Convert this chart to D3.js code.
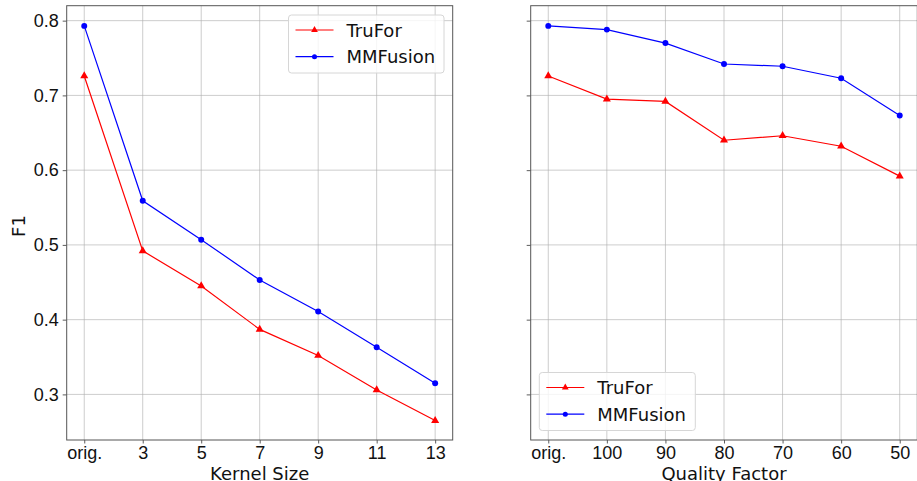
<!DOCTYPE html>
<html>
<head>
<meta charset="utf-8">
<script src="https://cdn.jsdelivr.net/npm/d3@7"></script>
<style>
  body { margin: 0; background: #fff; }
  svg { font-family: "DejaVu Sans", sans-serif; }
  .grid line { stroke: #b0b0b0; stroke-opacity: 0.7; stroke-width: 0.9; }
  .tick text { font-size: 18px; fill: #111; }
</style>
</head>
<body>
<svg id="chart" width="917" height="481"></svg>
<script>
// kernel size panel
var kernelCats = ["orig.", "3", "5", "7", "9", "11", "13"];
var kernelTruFor = [0.726, 0.492, 0.445, 0.387, 0.352, 0.306, 0.265];
var kernelMMFusion = [0.793, 0.559, 0.507, 0.453, 0.411, 0.363, 0.315];

// quality factor panel
var qualityCats = ["orig.", "100", "90", "80", "70", "60", "50"];
var qualityTruFor = [0.726, 0.695, 0.692, 0.640, 0.646, 0.632, 0.592];
var qualityMMFusion = [0.793, 0.788, 0.770, 0.742, 0.739, 0.723, 0.673];

var yTicks = [0.3, 0.4, 0.5, 0.6, 0.7, 0.8];

var svg = d3.select("#chart");
var top_ = 5.7, bottom = 440;
var fs = 18;

var y = d3.scaleLinear().domain([0.239, 0.820]).range([bottom, top_]);

function drawPanel(x0, x1, cats, truFor, mmFusion, xTitle, showYLabels, legendPos) {
	var g = svg.append("g");
	var x = d3.scalePoint().domain(cats).range([x0, x1]).padding(0.3);

	// grid
	var grid = g.append("g").attr("class", "grid");
	grid.selectAll("line.gx").data(cats).enter().append("line")
		.attr("x1", function (d) { return x(d); }).attr("x2", function (d) { return x(d); })
		.attr("y1", top_).attr("y2", bottom);
	grid.selectAll("line.gy").data(yTicks).enter().append("line")
		.attr("x1", x0).attr("x2", x1)
		.attr("y1", function (d) { return y(d); }).attr("y2", function (d) { return y(d); });

	// axes
	var xAxis = g.append("g").attr("transform", "translate(0," + bottom + ")")
		.call(d3.axisBottom(x).tickSize(3.5).tickPadding(3));
	var yAxis = g.append("g").attr("transform", "translate(" + x0 + ",0)")
		.call(d3.axisLeft(y).tickValues(yTicks).tickSize(4).tickPadding(4)
			.tickFormat(showYLabels ? d3.format(".1f") : function () { return ""; }));
	[xAxis, yAxis].forEach(function (a) {
		a.select(".domain").remove();
		a.selectAll(".tick line").attr("stroke", "#333").attr("stroke-width", 0.8);
	});

	// spines
	g.append("rect").attr("x", x0).attr("y", top_)
		.attr("width", x1 - x0).attr("height", bottom - top_)
		.attr("fill", "none").attr("stroke", "#555").attr("stroke-width", 1);

	var series = [
		{name: "TruFor", values: truFor, color: "#ff0000", symbol: d3.symbolTriangle},
		{name: "MMFusion", values: mmFusion, color: "#0000ff", symbol: d3.symbolCircle}
	];

	var line = d3.line()
		.x(function (d, i) { return x(cats[i]); })
		.y(function (d) { return y(d); });

	series.forEach(function (s) {
		g.append("path").datum(s.values)
			.attr("d", line).attr("fill", "none")
			.attr("stroke", s.color).attr("stroke-width", 1.2);
		g.selectAll(null).data(s.values).enter().append("path")
			.attr("d", d3.symbol().type(s.symbol).size(28))
			.attr("transform", function (d, i) { return "translate(" + x(cats[i]) + "," + y(d) + ")"; })
			.attr("fill", s.color);
	});

	// x title
	g.append("text").attr("x", (x0 + x1) / 2).attr("y", 480)
		.attr("text-anchor", "middle").attr("font-size", fs).attr("fill", "#111")
		.text(xTitle);

	// legend
	var lg = g.append("g").attr("transform", "translate(" + legendPos[0] + "," + legendPos[1] + ")");
	lg.append("rect").attr("width", legendPos[2]).attr("height", 58).attr("rx", 3)
		.attr("fill", "#fff").attr("fill-opacity", 0.8)
		.attr("stroke", "#d6d6d6").attr("stroke-width", 1);
	series.forEach(function (s, i) {
		var ly = 15 + i * 26.7;
		lg.append("line").attr("x1", 7).attr("x2", 45).attr("y1", ly).attr("y2", ly)
			.attr("stroke", s.color).attr("stroke-width", 1.2);
		lg.append("path").attr("d", d3.symbol().type(s.symbol).size(20))
			.attr("transform", "translate(26," + ly + ")").attr("fill", s.color);
		lg.append("text").attr("x", 58).attr("y", ly + 6.5)
			.attr("font-size", fs).attr("fill", "#111").text(s.name);
	});
}

drawPanel(66.7, 452.7, kernelCats, kernelTruFor, kernelMMFusion, "Kernel Size", true, [288.5, 15, 155.5]);
drawPanel(530.7, 917.3, qualityCats, qualityTruFor, qualityMMFusion, "Quality Factor", false, [539.3, 372.5, 156]);

// y title
svg.append("text").attr("transform", "translate(25,226) rotate(-90)")
	.attr("text-anchor", "middle").attr("font-size", fs).attr("fill", "#111")
	.text("F1");
</script>
</body>
</html>
